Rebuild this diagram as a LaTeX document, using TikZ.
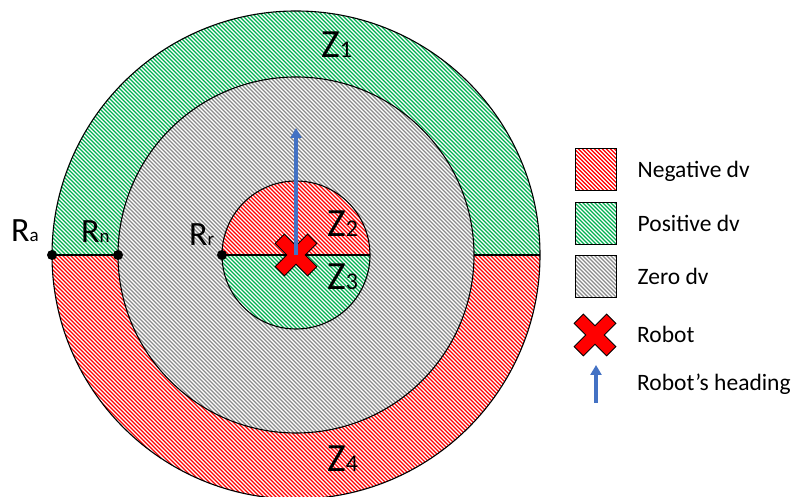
\documentclass[tikz,border=0pt]{standalone}
\usepackage{fontspec}
\setmainfont{Carlito}
\usetikzlibrary{positioning,arrows.meta}
\definecolor{negred}{HTML}{FF0000}
\definecolor{posgreen}{HTML}{00B050}
\definecolor{zerogray}{HTML}{8A8A8A}
\definecolor{headblue}{HTML}{4472C4}
% label with a small index on the base line
\newcommand\zonelbl[2]{#1{\fontsize{24}{24}\selectfont #2}}
\newcommand\radlbl[2]{#1{\fontsize{19}{19}\selectfont #2}}

\begin{document}
\begin{tikzpicture}[x=1pt,y=1pt,
    hatch/.style={fill=white,path picture={
      \foreach \k in {-492,-488,...,492}
        \draw[#1,line width=1.25pt] ([shift={(\k-300,300)}]path picture bounding box.center) -- ++(600,-600);}},
    ring/.style={draw=black,line width=1.1pt},
    zl/.style={inner sep=0,anchor=base west,font=\fontsize{40}{44}\selectfont},
    rl/.style={zl,font=\fontsize{34}{40}\selectfont},
    dotc/.style={fill=black,circle,inner sep=0,minimum size=10pt},
    robot/.style={fill=negred,draw=black,line width=0.9pt,line join=miter},
    head/.style={draw=headblue,line width=3.2pt,-{Triangle[length=10pt,width=11pt]}},
    legbox/.style={draw=black,line width=1pt,minimum width=41pt,minimum height=42pt,inner sep=0},
    legtxt/.style={inner sep=0,text height=16pt,text depth=0pt,font=\fontsize{23.5}{28}\selectfont},
    robotx/.pic={\path[robot,rotate=45] (-23,-6.5) -- (-6.5,-6.5) -- (-6.5,-23) -- (6.5,-23)
      -- (6.5,-6.5) -- (23,-6.5) -- (23,6.5) -- (6.5,6.5) -- (6.5,23) -- (-6.5,23)
      -- (-6.5,6.5) -- (-23,6.5) -- cycle;},
  ]
  \useasboundingbox (0,0) rectangle (793,497);

  \coordinate (c) at (296,242);
  \coordinate (ra) at (52,242);
  \coordinate (rn) at (118,242);
  \coordinate (rr) at (222,242);
  \coordinate (rae) at (540,242);
  \coordinate (rne) at (474,242);
  \coordinate (rre) at (370,242);

  % zones
  \path[hatch=posgreen] (c) ++(0:244) arc[start angle=0,end angle=180,radius=244] -- cycle;
  \path[hatch=negred] (c) ++(180:244) arc[start angle=180,end angle=360,radius=244] -- cycle;
  \path[hatch=zerogray] (c) circle[radius=178];
  \path[hatch=negred] (c) ++(0:74) arc[start angle=0,end angle=180,radius=74] -- cycle;
  \path[hatch=posgreen] (c) ++(180:74) arc[start angle=180,end angle=360,radius=74] -- cycle;

  \draw[ring] (c) circle[radius=244];
  \draw[ring] (c) circle[radius=178];
  \draw[ring] (c) circle[radius=74];
  \draw[ring,line width=1.5pt] (ra) -- (rn);
  \draw[ring,line width=1.5pt] (rne) -- (rae);
  \draw[ring] (rr) -- (rre);

  \node[dotc] (dota) at (ra) {};
  \node[dotc] (dotn) at (rn) {};
  \node[dotc] (dotr) at (rr) {};

  \node[rl] (lra) at (11,255) {\radlbl{R}{a}};
  \node[rl] (lrn) at (81,254) {\radlbl{R}{n}};
  \node[rl] (lrr) at (189,251) {\radlbl{R}{r}};

  \node[zl] (z1) at (321,439) {\zonelbl{Z}{1}};
  \node[zl] (z2) at (327,260) {\zonelbl{Z}{2}};
  \node[zl] (z3) at (327,207) {\zonelbl{Z}{3}};
  \node[zl] (z4) at (327,25) {\zonelbl{Z}{4}};

  % robot and heading
  \pic at (c) {robotx};
  \coordinate (tip) at (296,369);
  \draw[head] (c) -- (tip);

  % legend
  \node[legbox,hatch=negred] (neg) at (595.5,327) {};
  \node[legbox,hatch=posgreen] (pos) at (595.5,273.5) {};
  \node[legbox,hatch=zerogray] (zer) at (595.5,220.5) {};
  \node[legtxt,right=21pt of neg] (negt) {Negative dv};
  \node[legtxt,right=21pt of pos] (post) {Positive dv};
  \node[legtxt,right=21pt of zer] (zert) {Zero dv};

  \coordinate (rob) at (595,162);
  \pic at (rob) {robotx};
  \node[legtxt,right=42pt of rob] (robt) {Robot};

  \coordinate (hb) at (596,94);
  \coordinate (ht) at (596,132);
  \coordinate (hm) at (596,114);
  \draw[head] (hb) -- (ht);
  \node[legtxt,right=41pt of hm] (headt) {Robot’s heading};
\end{tikzpicture}
\end{document}
